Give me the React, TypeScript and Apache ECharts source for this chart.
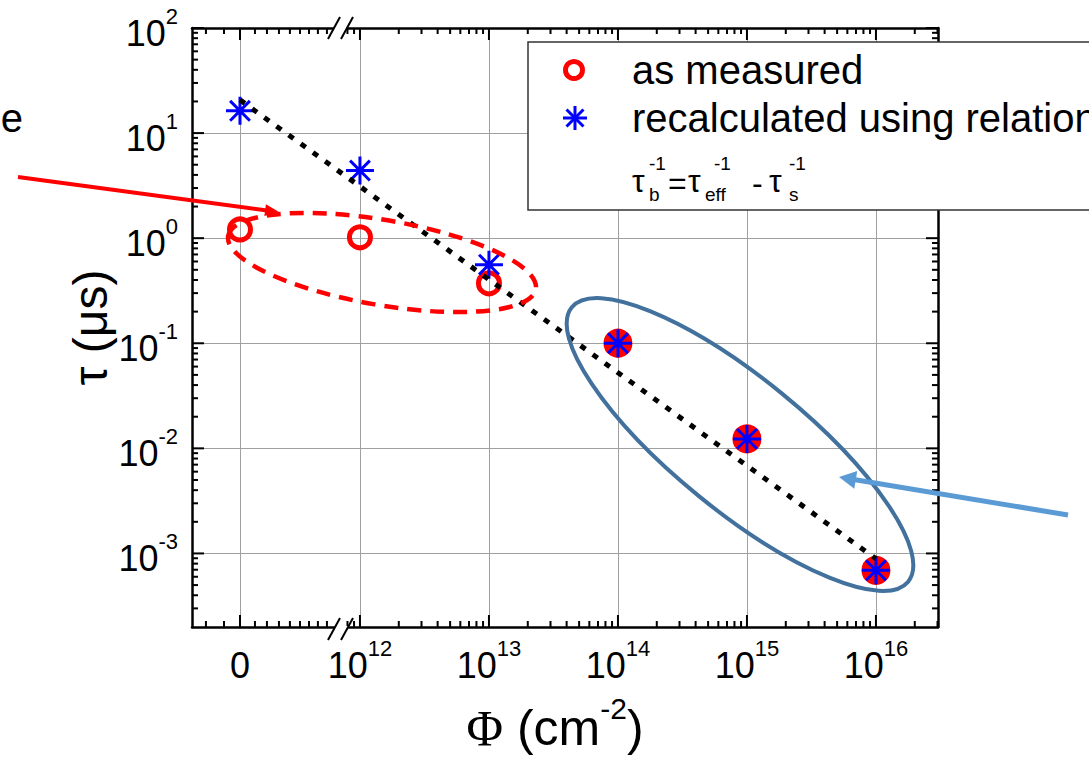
import React, { useEffect, useRef } from "react";
import * as echarts from "echarts";

// ---------------- data ----------------
const fluence = [0, 1e12, 1e13, 1e14, 1e15, 1e16];
const tauMeasured = [1.21, 1.02, 0.372, 0.1, 0.0123, 6.9e-4];
const tauRecalc = [16.3, 4.4, 0.56, 0.1, 0.0123, 6.9e-4];
const fitLine = [
  [0, 20.7],
  [1e16, 8.9e-4],
];
const xMajorFluence = [0, 1e12, 1e13, 1e14, 1e15, 1e16];
const yMajorExp = [-3, -2, -1, 0, 1, 2];
// minor ticks of the "0" segment of the broken axis (axis units)
const zeroSegmentTicks = [-1.194, -1.054, -0.814, -0.721, -0.628, -0.543, -0.465, -0.395, -0.326, -0.256];

// ---------------- axis mapping (broken axis) ----------------
const ZERO_POS = -0.93;
const X_MIN = -1.302;
const X_MAX = 4.481;
const Y_MIN = -3.7;
const Y_MAX = 2;
const xPos = (phi: number) => (phi === 0 ? ZERO_POS : Math.log10(phi) - 12);
const yPos = (tau: number) => Math.log10(tau);

const FONT = '"Liberation Sans", Arial, Helvetica, sans-serif';
const SERIF = '"Liberation Serif", "Times New Roman", serif';

function logMinor(d0: number, d1: number, lo: number, hi: number, offset: number) {
  const out: number[] = [];
  for (let d = d0; d <= d1; d++) {
    for (let k = 2; k <= 9; k++) {
      const v = d + Math.log10(k) - offset;
      if (v > lo && v < hi) out.push(v);
    }
  }
  return out;
}

const majorX = xMajorFluence.map(xPos);
const minorX = [...zeroSegmentTicks, ...logMinor(11, 16, -0.12, X_MAX, 12)];
const majorY = yMajorExp.slice();
const minorY = logMinor(-4, 1, Y_MIN + 0.01, Y_MAX, 0);

const MAJOR_LEN = 12;
const MINOR_LEN = 6;
const xTickData = [...majorX.map((u) => [u, Y_MIN, MAJOR_LEN]), ...minorX.map((u) => [u, Y_MIN, MINOR_LEN])];
const yTickData = [...majorY.map((v) => [X_MIN, v, MAJOR_LEN]), ...minorY.map((v) => [X_MIN, v, MINOR_LEN])];

const labelRich = {
  b: { fontSize: 36, fontFamily: FONT, color: "#000", lineHeight: 46, verticalAlign: "bottom" },
  s: { fontSize: 22, fontFamily: FONT, color: "#000", lineHeight: 22, verticalAlign: "top" },
};

const frameLine = { show: true, onZero: false, lineStyle: { color: "#000", width: 2.5 } };
const noLine = { show: false, onZero: false };
const gridLine = { show: true, lineStyle: { color: "#a0a0a0", width: 1 } };

function makeAxis(dim: "x" | "y", position: string, ticks: number[], extra: any = {}) {
  return {
    type: "value",
    position,
    min: dim === "x" ? X_MIN : Y_MIN,
    max: dim === "x" ? X_MAX : Y_MAX,
    axisLine: extra.axisLine || noLine,
    axisTick: { show: false, customValues: ticks },
    axisLabel: extra.axisLabel || { show: false },
    splitLine: extra.splitLine || { show: false },
    ...(extra.name ? extra.name : {}),
  };
}

function arrow(x1: number, y1: number, x2: number, y2: number, color: string, width: number, headLen: number, headHalf: number) {
  const dx = x2 - x1;
  const dy = y2 - y1;
  const L = Math.hypot(dx, dy);
  const ux = dx / L;
  const uy = dy / L;
  const bx = x2 - ux * headLen;
  const by = y2 - uy * headLen;
  return [
    { type: "line", z: 30, shape: { x1, y1, x2: bx + ux * 2, y2: by + uy * 2 }, style: { stroke: color, lineWidth: width } },
    {
      type: "polygon",
      z: 30,
      shape: { points: [[x2, y2], [bx - uy * headHalf, by + ux * headHalf], [bx + uy * headHalf, by - ux * headHalf]] },
      style: { fill: color },
    },
  ];
}

function txt(text: string, x: number, y: number, size: number, align = "left", family = FONT) {
  return {
    type: "text",
    z: 101,
    x,
    y,
    style: { text, fontSize: size, fontFamily: family, fill: "#000", align, verticalAlign: "middle", textAlign: align, textVerticalAlign: "middle" },
  };
}

function breakMark(yAxisLine: number) {
  const top = yAxisLine - 11;
  const bot = yAxisLine + 11;
  const l1 = (y: number) => 334 - ((y - yAxisLine) * 12) / 22;
  const l2 = (y: number) => 347 - ((y - yAxisLine) * 12) / 22;
  return [
    {
      type: "polygon",
      z: 40,
      shape: { points: [[l1(yAxisLine + 3), yAxisLine + 3], [l1(yAxisLine - 3), yAxisLine - 3], [l2(yAxisLine - 3), yAxisLine - 3], [l2(yAxisLine + 3), yAxisLine + 3]] },
      style: { fill: "#fff" },
    },
    { type: "line", z: 41, shape: { x1: l1(bot), y1: bot, x2: l1(top), y2: top }, style: { stroke: "#000", lineWidth: 2 } },
    { type: "line", z: 41, shape: { x1: l2(bot), y1: bot, x2: l2(top), y2: top }, style: { stroke: "#000", lineWidth: 2 } },
  ];
}

function starLines(cx: number, cy: number, r: number) {
  const d = r * Math.SQRT1_2;
  const segs = [
    [0, -r, 0, r],
    [-r, 0, r, 0],
    [-d, -d, d, d],
    [-d, d, d, -d],
  ];
  return segs.map((s) => ({
    type: "line",
    z: 101,
    shape: { x1: cx + s[0], y1: cy + s[1], x2: cx + s[2], y2: cy + s[3] },
    style: { stroke: "#0000ff", lineWidth: 3 },
  }));
}

const STAR_PATH = "path://M0 -10L0 10M-10 0L10 0M-7.07 -7.07L7.07 7.07M-7.07 7.07L7.07 -7.07";

export default function App() {
  const ref = useRef<HTMLDivElement>(null);

  useEffect(() => {
    if (!ref.current) return;
    const chart = echarts.init(ref.current, null, { renderer: "svg" });

    const measuredData = fluence.map((f, i) => [xPos(f), yPos(tauMeasured[i])]);
    const recalcData = fluence.map((f, i) => [xPos(f), yPos(tauRecalc[i])]);
    const overlap = fluence.map((_, i) => Math.abs(yPos(tauMeasured[i]) - yPos(tauRecalc[i])) < 0.02);

    const tickLine = (x1: number, y1: number, x2: number, y2: number) => ({
      type: "line",
      shape: { x1, y1, x2, y2 },
      style: { stroke: "#000", lineWidth: 2 },
    });

    const option: any = {
      animation: false,
      backgroundColor: "#fff",
      grid: { left: 192, top: 28, width: 746, height: 601, containLabel: false },
      xAxis: [
        makeAxis("x", "bottom", majorX, {
          axisLine: frameLine,
          splitLine: gridLine,
          axisLabel: {
            show: true,
            customValues: majorX,
            margin: 10,
            formatter: (v: number) => (Math.abs(v - ZERO_POS) < 1e-6 ? "{b|0}" : `{b|10}{s|${Math.round(v) + 12}}`),
            rich: labelRich,
          },
          name: {
            name: "{p|Φ}{t| (cm}{s|-2}{t|)}",
            nameLocation: "middle",
            nameGap: 66,
            nameMoveOverlap: false,
            nameTextStyle: {
              padding: [0, 20, 0, 0],
              rich: {
                p: { fontSize: 50, fontFamily: SERIF, color: "#000", lineHeight: 60, verticalAlign: "bottom" },
                t: { fontSize: 50, fontFamily: FONT, color: "#000", lineHeight: 60, verticalAlign: "bottom" },
                s: { fontSize: 30, fontFamily: FONT, color: "#000", lineHeight: 30, verticalAlign: "top" },
              },
            },
          },
        }),
        makeAxis("x", "top", majorX, { axisLine: frameLine }),
      ],
      yAxis: [
        makeAxis("y", "left", majorY, {
          axisLine: frameLine,
          splitLine: gridLine,
          axisLabel: {
            show: true,
            customValues: majorY,
            margin: 14,
            formatter: (v: number) => `{b|10}{s|${Math.round(v)}}`,
            rich: labelRich,
          },
          name: {
            name: "{t|τ (μs)}",
            nameLocation: "middle",
            nameGap: 78,
            nameMoveOverlap: false,
            nameTextStyle: { rich: { t: { fontSize: 48, fontFamily: FONT, color: "#000" } } },
          },
        }),
        makeAxis("y", "right", majorY, { axisLine: frameLine }),
      ],
      series: [
        {
          name: "xTicks",
          type: "custom",
          xAxisIndex: 0,
          yAxisIndex: 0,
          silent: true,
          clip: false,
          encode: { x: 0, y: 1 },
          data: xTickData,
          z: 1,
          renderItem: (_p: any, api: any) => {
            const u = api.value(0);
            const len = api.value(2);
            const b = api.coord([u, Y_MIN]);
            const t = api.coord([u, Y_MAX]);
            return {
              type: "group",
              children: [tickLine(b[0], b[1], b[0], b[1] - len), tickLine(t[0], t[1], t[0], t[1] + len)],
            };
          },
        },
        {
          name: "yTicks",
          type: "custom",
          xAxisIndex: 0,
          yAxisIndex: 0,
          silent: true,
          clip: false,
          encode: { x: 0, y: 1 },
          data: yTickData,
          z: 1,
          renderItem: (_p: any, api: any) => {
            const v = api.value(1);
            const len = api.value(2);
            const l = api.coord([X_MIN, v]);
            const r = api.coord([X_MAX, v]);
            return {
              type: "group",
              children: [tickLine(l[0], l[1], l[0] + len, l[1]), tickLine(r[0], r[1], r[0] - len, r[1])],
            };
          },
        },
        {
          name: "as measured",
          type: "scatter",
          xAxisIndex: 0,
          yAxisIndex: 0,
          data: measuredData,
          symbol: "circle",
          symbolSize: (_v: any, p: any) => (overlap[p.dataIndex] ? 24 : 21),
          itemStyle: {
            color: (p: any) => (overlap[p.dataIndex] ? "#ff0000" : "rgba(255,255,255,0)"),
            borderColor: "#ff0000",
            borderWidth: 5,
            opacity: 1,
          },
          z: 3,
        },
        {
          name: "recalculated using relation",
          type: "scatter",
          xAxisIndex: 0,
          yAxisIndex: 0,
          data: recalcData,
          symbol: STAR_PATH,
          symbolSize: 28,
          itemStyle: { color: "#0000ff", borderColor: "#0000ff", borderWidth: 3, opacity: 1 },
          z: 4,
        },
        {
          name: "fit",
          type: "line",
          xAxisIndex: 0,
          yAxisIndex: 0,
          data: fitLine.map((p) => [xPos(p[0]), yPos(p[1])]),
          symbol: "none",
          showSymbol: false,
          lineStyle: { color: "#000", width: 5, type: [6, 9] },
          z: 5,
        },
      ],
      graphic: {
        elements: [
          {
            type: "ellipse",
            z: 20,
            x: 382,
            y: 262.5,
            rotation: (-9.76 * Math.PI) / 180,
            shape: { cx: 0, cy: 0, rx: 156, ry: 42.5 },
            style: { fill: "none", stroke: "#ff0000", lineWidth: 4.5, lineDash: [14, 9] },
          },
          {
            type: "ellipse",
            z: 20,
            x: 740,
            y: 444.5,
            rotation: (-39.2 * Math.PI) / 180,
            shape: { cx: 0, cy: 0, rx: 217, ry: 66 },
            style: { fill: "none", stroke: "#41719C", lineWidth: 4 },
          },
          ...arrow(18, 177, 279, 212, "#ff0000", 4, 14, 6),
          ...arrow(1068, 515, 839, 477, "#5B9BD5", 5, 17, 9),
          txt("e", 23, 118, 40, "right"),
          ...breakMark(629),
          ...breakMark(28),
          {
            type: "rect",
            z: 100,
            shape: { x: 528, y: 42, width: 620, height: 168 },
            style: { fill: "#fff", stroke: "#333", lineWidth: 1.5 },
          },
          {
            type: "circle",
            z: 101,
            shape: { cx: 574, cy: 70, r: 8.5 },
            style: { fill: "none", stroke: "#ff0000", lineWidth: 5 },
          },
          ...starLines(575, 118, 12),
          txt("as measured", 632, 70, 40),
          txt("recalculated using relation", 632, 118, 40),
          txt("τ", 632, 181, 32),
          txt("-1", 649, 163, 19),
          txt("b", 649, 194, 19),
          txt("=", 668, 183, 32),
          txt("τ", 688, 181, 32),
          txt("-1", 714, 163, 19),
          txt("eff", 705, 194, 19),
          txt("-", 752, 183, 32),
          txt("τ", 769, 181, 32),
          txt("-1", 789, 163, 19),
          txt("s", 789, 194, 19),
        ],
      },
    };

    chart.setOption(option);
    return () => {
      chart.dispose();
    };
  }, []);

  return (
    <div
      ref={ref}
      style={{ position: "fixed", left: 0, top: 0, width: 1089, height: 758, background: "#fff" }}
    />
  );
}
